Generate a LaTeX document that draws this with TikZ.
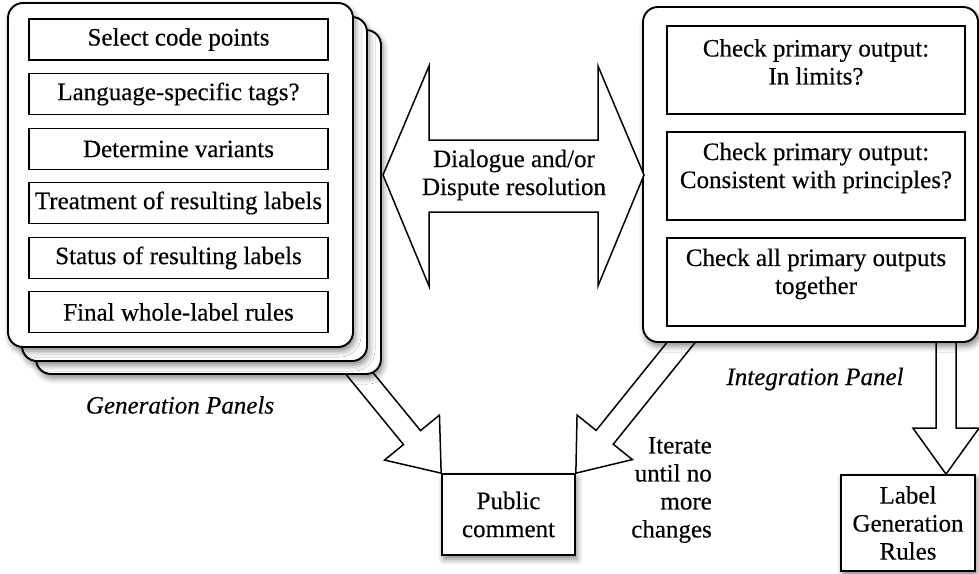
\documentclass[tikz,border=0pt]{standalone}
\usepackage{fontspec}
\setmainfont{Liberation Serif}[FakeBold=0.35]
\usetikzlibrary{calc,shadows.blur}
\tikzset{
  txt/.style={font=\fontsize{25}{28}\selectfont, align=center, inner sep=0pt},
  shd/.style={blur shadow={shadow xshift=2pt, shadow yshift=-4pt, shadow blur radius=6pt, shadow opacity=50}},
  panel/.style={draw, line width=1.9pt, rounded corners=15pt, fill=white, shd, inner sep=0pt},
  genbox/.style={draw, line width=1.7pt, fill=white, minimum width=299pt, minimum height=41pt, txt},
  intbox/.style={draw, line width=1.7pt, fill=white, minimum width=298pt, minimum height=88pt, inner sep=0pt},
  outbox/.style={draw, line width=1.7pt, fill=white, shd, txt},
  blockarr/.style={draw, line width=1.5pt, fill=white, line join=miter},
  captxt/.style={font=\fontsize{25}{28}\selectfont\itshape, inner sep=0pt}
}
\newcommand\blkarrow[5]{%
  \coordinate (tmpH) at ($(#2)!#5!(#1)$);
  \fill[white] ($(#1)!#3!90:(#2)$) -- ($(tmpH)!#3!90:(#2)$) -- ($(tmpH)!#4!90:(#2)$) -- (#2)
     -- ($(tmpH)!#4!-90:(#2)$) -- ($(tmpH)!#3!-90:(#2)$) -- ($(#1)!#3!-90:(#2)$) -- cycle;
  \draw[blockarr] ($(#1)!#3!90:(#2)$) -- ($(tmpH)!#3!90:(#2)$) -- ($(tmpH)!#4!90:(#2)$) -- (#2)
     -- ($(tmpH)!#4!-90:(#2)$) -- ($(tmpH)!#3!-90:(#2)$) -- ($(#1)!#3!-90:(#2)$);
}
\begin{document}
\begin{tikzpicture}[x=1pt,y=-1pt]
\useasboundingbox (0,0) rectangle (979,573);

% bottom boxes
\node[outbox, minimum width=133pt, minimum height=81pt] (pc) at (508.5,514.5) {Public\\comment};
\node[outbox, minimum width=134pt, minimum height=96pt] (lgr) at (908,523) {Label\\Generation\\Rules};

% arrow start points (inside panels)
\coordinate (gstart) at (346,357);
\coordinate (istart) at (693.5,327);
\coordinate (dstart) at (946,330);
\coordinate (dtip) at (dstart |- lgr.north);

\blkarrow{gstart}{pc.north west}{11pt}{35.5pt}{46pt}
\blkarrow{istart}{pc.north east}{11pt}{35.5pt}{46pt}
\blkarrow{dstart}{dtip}{10pt}{33pt}{46pt}

% generation panels
\node[panel, minimum width=345pt, minimum height=344pt] (gen3) at (208.5,202) {};
\node[panel, minimum width=345pt, minimum height=344pt] (gen2) at (194.5,189) {};
\node[panel, minimum width=345pt, minimum height=344pt] (gen1) at (180.5,175) {};

\node[genbox] (g1) at (178.5,39.5) {Select code points};
\node[genbox] (g2) at (178.5,94) {Language-specific tags?};
\node[genbox] (g3) at (178.5,149) {Determine variants};
\node[genbox] (g4) at (178.5,203) {Treatment of resulting labels};
\node[genbox] (g5) at (178.5,258) {Status of resulting labels};
\node[genbox] (g6) at (178.5,312) {Final whole-label rules};

% integration panel
\node[panel, minimum width=335pt, minimum height=335pt] (intp) at (810.5,174.5) {};
\node[intbox] (i1) at (816,70) {};
\node[intbox] (i2) at (816,176) {};
\node[intbox] (i3) at (816,282) {};
\node[txt] (it1) at (816,62) {Check primary output:\\In limits?};
\node[txt] (it2) at (816,168) {Check primary output:\\Consistent with principles?};
\node[txt] (it3) at (816,274) {Check all primary outputs\\together};

% dialogue double arrow
\draw[line width=1.5pt, fill=white, line join=miter]
  (383,175) -- (429,66) -- (429,140) -- (598,140) -- (598,66) -- (644,175)
  -- (598,286) -- (598,212) -- (429,212) -- (429,286) -- cycle;
\node[txt] (dlg) at (514,175) {Dialogue and/or\\Dispute resolution};

% captions
\node[captxt] (gcap) at (180,405) {Generation Panels};
\node[captxt] (icap) at (815,379) {Integration Panel};
\node[txt, align=right, anchor=east] (iter) at (712,490) {Iterate\\until no\\more\\changes};
\end{tikzpicture}
\end{document}
